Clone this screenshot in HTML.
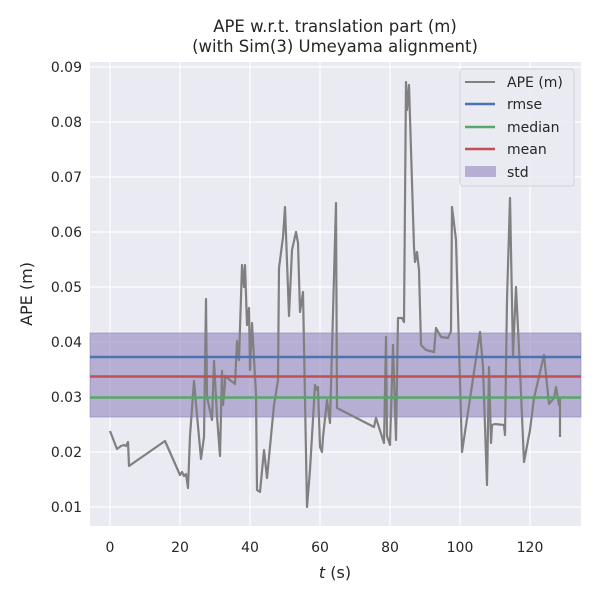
<!DOCTYPE html>
<html><head><style>body{margin:0;background:#fff}</style></head><body>
<svg width="600" height="600" xmlns="http://www.w3.org/2000/svg" font-family="DejaVu Sans, Liberation Sans, sans-serif">
<rect x="90" y="62" width="491" height="464" fill="#eaeaf2"/>
<g stroke="#fff" stroke-width="1.2">
<line x1="110" y1="62" x2="110" y2="526"/><line x1="180" y1="62" x2="180" y2="526"/><line x1="250" y1="62" x2="250" y2="526"/><line x1="320" y1="62" x2="320" y2="526"/><line x1="390" y1="62" x2="390" y2="526"/><line x1="460" y1="62" x2="460" y2="526"/><line x1="530" y1="62" x2="530" y2="526"/>
<line x1="90" y1="67" x2="581" y2="67"/><line x1="90" y1="122" x2="581" y2="122"/><line x1="90" y1="177" x2="581" y2="177"/><line x1="90" y1="232" x2="581" y2="232"/><line x1="90" y1="287" x2="581" y2="287"/><line x1="90" y1="342" x2="581" y2="342"/><line x1="90" y1="397" x2="581" y2="397"/><line x1="90" y1="452" x2="581" y2="452"/><line x1="90" y1="507" x2="581" y2="507"/>
</g>
<rect x="90" y="333" width="491" height="84" fill="#8172b3" fill-opacity="0.5" stroke="#8172b3" stroke-opacity="0.5"/>
<polyline fill="none" stroke="#808080" stroke-width="2.2" stroke-linejoin="round" points="110,431 117,449 121,446 124,445 126,446 128,442 129,466 165,441 180,475 182,472 184,476 186,474 188,488 190,436 194,381 197,415 201,459 204,437 206,299 207,397 212,420 214,361 217,416 220,456 222,371 223,405 225,384 225,376 235,384 237,341 239,360 242,265 244,287 245,265 247,325 249,308 250,370 252,323 256,394 257,490 260,492 264,450 267,478 274,405 278,380 279,268 283,237 285,207 289,316 292,250 296,232 298,243 300,312 303,292 307,507 310,470 315,385 317,390 318,387 320,447 322,452 323,437 327,400 330,423 335,240 336,203 337,408 374,427 376,418 384,443 386,337 387,436 390,445 393,345 396,440 398,318 402,318 404,322 406,82 407,110 409,85 414,247 415,262 417,252 419,270 421,345 426,350 434,352 436,328 441,337 448,338 451,331 452,207 456,240 462,452 480,332 483,367 487,485 489,367 491,443 492,425 495,424 504,425 505,435 507,300 510,198 513,355 516,287 520,370 524,462 530,430 534,398 544,355 549,404 554,398 556,387 559,405 560,398 560,437"/>
<line x1="90" y1="357" x2="581" y2="357" stroke="#4c72b0" stroke-width="2.5"/>
<line x1="90" y1="376.5" x2="581" y2="376.5" stroke="#c44e52" stroke-width="2.5"/>
<line x1="90" y1="397.5" x2="581" y2="397.5" stroke="#55a868" stroke-width="2.5"/>
<g font-size="14" fill="#262626">
<text x="335" y="32" text-anchor="middle" font-size="16.5">APE w.r.t. translation part (m)</text>
<text x="335" y="52" text-anchor="middle" font-size="16.5">(with Sim(3) Umeyama alignment)</text>
<g text-anchor="middle">
<text x="110" y="552">0</text><text x="180" y="552">20</text><text x="250" y="552">40</text><text x="320" y="552">60</text><text x="390" y="552">80</text><text x="460" y="552">100</text><text x="530" y="552">120</text>
</g>
<g text-anchor="end">
<text x="82" y="72">0.09</text><text x="82" y="127">0.08</text><text x="82" y="182">0.07</text><text x="82" y="237">0.06</text><text x="82" y="292">0.05</text><text x="82" y="347">0.04</text><text x="82" y="402">0.03</text><text x="82" y="457">0.02</text><text x="82" y="512">0.01</text>
</g>
<text x="335" y="578" text-anchor="middle" font-size="16"><tspan font-style="italic">t</tspan> (s)</text>
<text transform="translate(32,294) rotate(-90)" text-anchor="middle" font-size="16">APE (m)</text>
</g>
<rect x="460" y="69" width="114" height="117" rx="3" fill="#eaeaf2" fill-opacity="0.8" stroke="#d0d0d8"/>
<g stroke-width="2.5"><line x1="465" y1="82" x2="495" y2="82" stroke="#808080" stroke-width="2"/><line x1="465" y1="104" x2="495" y2="104" stroke="#4c72b0"/><line x1="465" y1="127" x2="495" y2="127" stroke="#55a868"/><line x1="465" y1="149" x2="495" y2="149" stroke="#c44e52"/></g>
<rect x="465" y="166" width="31" height="11" fill="#8172b3" fill-opacity="0.5"/>
<g font-size="14" fill="#262626"><text x="507" y="87">APE (m)</text><text x="507" y="109">rmse</text><text x="507" y="132">median</text><text x="507" y="154">mean</text><text x="507" y="177">std</text></g>
</svg>
</body></html>
